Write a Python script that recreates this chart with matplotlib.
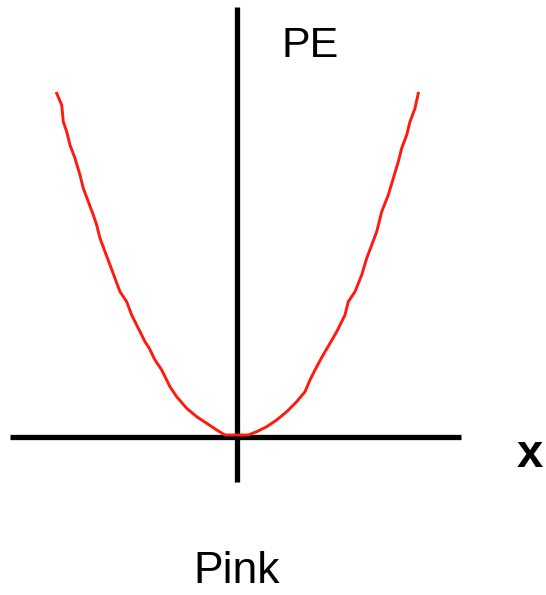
import matplotlib
matplotlib.use("Agg")
import matplotlib.pyplot as plt

# Potential energy curve sampled along its left and right branches
x_left = [-5.000, -4.861, -4.817, -4.722, -4.631, -4.492, -4.353, -4.261, -4.122,
          -3.983, -3.889, -3.797, -3.658, -3.519, -3.381, -3.242, -3.056, -2.917,
          -2.733, -2.547, -2.428, -2.269, -2.083, -1.853, -1.667, -1.389, -1.111,
          -0.833, -0.556, -0.325, 0.0]
pe_left = [10.006, 9.665, 9.178, 8.886, 8.499, 8.111, 7.624, 7.236, 6.845,
           6.458, 6.166, 5.778, 5.388, 5.000, 4.612, 4.222, 3.930, 3.542,
           3.155, 2.764, 2.571, 2.230, 1.939, 1.452, 1.160, 0.822, 0.577,
           0.385, 0.190, 0.044, 0.044]
x_right = [0.322, 0.556, 0.833, 1.111, 1.389, 1.667, 1.897, 2.036, 2.175, 2.369,
           2.592, 2.778, 3.008, 3.100, 3.286, 3.472, 3.611, 3.750, 3.889, 4.028,
           4.211, 4.350, 4.489, 4.583, 4.722, 4.814, 4.953, 5.044]
pe_right = [0.044, 0.140, 0.286, 0.481, 0.723, 1.015, 1.306, 1.647, 1.939, 2.318,
            2.717, 3.055, 3.542, 3.930, 4.222, 4.708, 5.195, 5.583, 5.971, 6.554,
            7.041, 7.528, 8.012, 8.402, 8.790, 9.178, 9.569, 10.006]

x_vals = x_left + x_right
pe_vals = pe_left + pe_right

y_label = "PE"
x_label = "x"
title = "Pink"

fig = plt.figure(figsize=(5.46, 5.95), dpi=100)
ax = fig.add_axes([0, 0, 1, 1])
ax.set_xlim(-6.575, 8.592)
ax.set_ylim(-4.621, 12.726)
ax.axis("off")

# coordinate axes
ax.plot([-6.297, 6.244], [0, 0], color="black", lw=3.8, solid_capstyle="butt", zorder=2)
ax.plot([0, 0], [-1.341, 12.52], color="black", lw=3.8, solid_capstyle="butt", zorder=2)

# energy curve
ax.plot(x_vals, pe_vals, color="#ff1a10", lw=2.1, solid_joinstyle="round", zorder=3)

font = ["Liberation Sans", "DejaVu Sans"]
ax.text(2.036, 11.064, y_label, fontsize=31, family=font, ha="center", va="baseline")
ax.text(8.147, -0.880, x_label, fontsize=34, family=font, fontweight="bold",
        ha="center", va="baseline")
ax.text(0.0, -4.271, title, fontsize=32, family=font, ha="center", va="baseline")

fig.savefig("out.png", dpi=100)
